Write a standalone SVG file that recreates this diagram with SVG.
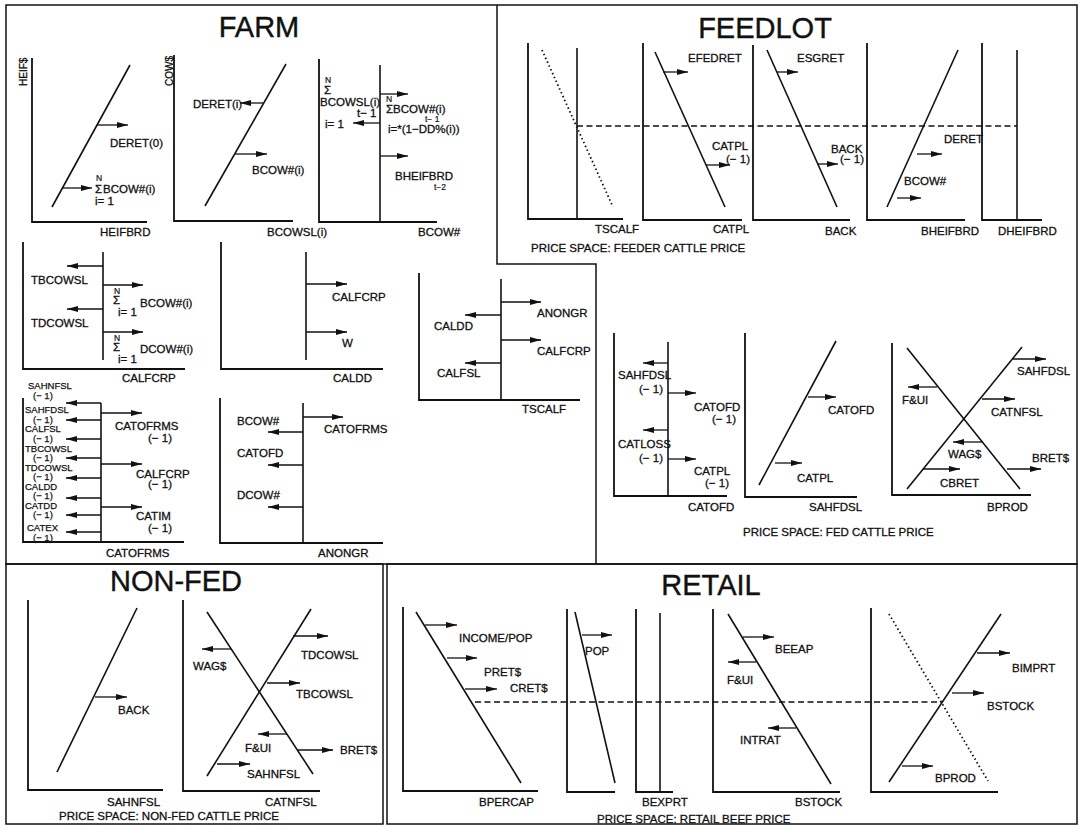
<svg xmlns="http://www.w3.org/2000/svg" width="1081" height="828" viewBox="0 0 1081 828">
<style>
text{font-family:"Liberation Sans",Arial,sans-serif;font-size:11.5px;fill:#111;stroke:#111;stroke-width:0.3}
.t{font-size:29px;text-anchor:middle;stroke-width:0.4}
.s{font-size:8.5px;stroke-width:0.2}
.r{font-size:10px}
.k{font-size:9.5px;stroke-width:0.25}
.ax{stroke:#111;stroke-width:1.8;fill:none}
.ln{stroke:#111;stroke-width:1.6;fill:none}
.dot{stroke:#111;stroke-width:1.8;stroke-dasharray:1.5 2.7;fill:none}
.dash{stroke:#111;stroke-width:1.4;stroke-dasharray:6 3.5;fill:none}
.fr{stroke:#111;stroke-width:1.5;fill:none}
#connectors path{stroke:#111;stroke-width:1.3;fill:none;marker-end:url(#ah)}
</style>
<defs>
<marker id="ah" markerUnits="userSpaceOnUse" markerWidth="11" markerHeight="6" refX="11" refY="3" orient="auto">
<path d="M0,0 L11,3 L0,6 Z" fill="#111"/>
</marker>
</defs>
<rect width="1081" height="828" fill="#fff"/>

<g id="frames">
<path class="fr" d="M6,5 H1077 V564 H6 Z"/>
<path class="fr" d="M497,5 V264 H596 V564"/>
<rect class="fr" x="6" y="564" width="377" height="260"/>
<rect class="fr" x="387" y="564" width="690" height="260"/>
</g>

<g id="titles">
<text class="t" x="259" y="37">FARM</text>
<text class="t" x="765" y="38">FEEDLOT</text>
<text class="t" x="176" y="591">NON-FED</text>
<text class="t" x="711" y="595">RETAIL</text>
</g>

<g id="farm-heifbrd">
<path class="ax" d="M32,58 V222 H147"/>
<line class="ln" x1="52" y1="207" x2="130" y2="65"/>
<text class="r" transform="translate(27,86) rotate(-90)">HEIF$</text>
<text x="110" y="147">DERET(0)</text>
<text class="s" x="96" y="181">N</text>
<text x="95" y="193">Σ</text>
<text x="103" y="193">BCOW#(i)</text>
<text x="95" y="205">i= 1</text>
<text x="100" y="236">HEIFBRD</text>
</g>

<g id="farm-bcowsl">
<path class="ax" d="M174,55 V221 H293"/>
<line class="ln" x1="205" y1="206" x2="286" y2="64"/>
<text class="r" transform="translate(173,86) rotate(-90)">COW$</text>
<text x="193" y="108">DERET(i)</text>
<text x="252" y="174">BCOW#(i)</text>
<text x="267" y="236">BCOWSL(i)</text>
</g>

<g id="farm-bcow">
<path class="ax" d="M319,59 V222 H437"/>
<line class="ln" x1="380" y1="65" x2="380" y2="222"/>
<text class="s" x="325" y="83">N</text>
<text x="324" y="94">Σ</text>
<text x="320" y="106">BCOWSL(i)</text>
<text x="357" y="117">t− 1</text>
<text x="325" y="128">i= 1</text>
<text class="s" x="386" y="102">N</text>
<text x="386" y="113">ΣBCOW#(i)</text>
<text class="s" x="425" y="122">t− 1</text>
<text x="388" y="133">i=*(1−DD%(i))</text>
<text x="395" y="180">BHEIFBRD</text>
<text class="s" x="434" y="190">t−2</text>
<text x="418" y="236">BCOW#</text>
</g>

<g id="farm-calfcrp">
<path class="ax" d="M23,242 V369 H185"/>
<line class="ln" x1="103" y1="252" x2="103" y2="360"/>
<text x="31" y="284">TBCOWSL</text>
<text class="s" x="114" y="294">N</text>
<text x="113" y="304">Σ</text>
<text x="140" y="307">BCOW#(i)</text>
<text x="118" y="316">i= 1</text>
<text x="31" y="327">TDCOWSL</text>
<text class="s" x="114" y="341">N</text>
<text x="113" y="351">Σ</text>
<text x="140" y="353">DCOW#(i)</text>
<text x="118" y="363">i= 1</text>
<text x="122" y="382">CALFCRP</text>
</g>

<g id="farm-caldd">
<path class="ax" d="M221,242 V369 H383"/>
<line class="ln" x1="306" y1="252" x2="306" y2="360"/>
<text x="332" y="301">CALFCRP</text>
<text x="342" y="347">W</text>
<text x="333" y="382">CALDD</text>
</g>

<g id="farm-tscalf">
<path class="ax" d="M419,273 V400 H580"/>
<line class="ln" x1="501" y1="279" x2="501" y2="400"/>
<text x="537" y="317">ANONGR</text>
<text x="434" y="330">CALDD</text>
<text x="537" y="355">CALFCRP</text>
<text x="437" y="377">CALFSL</text>
<text x="522" y="413">TSCALF</text>
</g>

<g id="farm-catofrms">
<path class="ax" d="M23,398 V542 H184"/>
<line class="ln" x1="101" y1="403" x2="101" y2="542"/>
<text class="k" x="28" y="389">SAHNFSL</text>
<text class="k" x="33" y="399">(− 1)</text>
<text class="k" x="25" y="413">SAHFDSL</text>
<text class="k" x="33" y="423">(− 1)</text>
<text class="k" x="25" y="432">CALFSL</text>
<text class="k" x="33" y="442">(− 1)</text>
<text class="k" x="25" y="452">TBCOWSL</text>
<text class="k" x="33" y="461">(− 1)</text>
<text class="k" x="25" y="471">TDCOWSL</text>
<text class="k" x="33" y="480">(− 1)</text>
<text class="k" x="25" y="490">CALDD</text>
<text class="k" x="33" y="499">(− 1)</text>
<text class="k" x="25" y="509">CATDD</text>
<text class="k" x="33" y="518">(− 1)</text>
<text class="k" x="27" y="531">CATEX</text>
<text class="k" x="33" y="541">(− 1)</text>
<text x="115" y="430">CATOFRMS</text>
<text x="148" y="442">(− 1)</text>
<text x="136" y="478">CALFCRP</text>
<text x="148" y="488">(− 1)</text>
<text x="136" y="520">CATIM</text>
<text x="148" y="532">(− 1)</text>
<text x="106" y="557">CATOFRMS</text>
</g>

<g id="farm-anongr">
<path class="ax" d="M220,398 V543 H383"/>
<line class="ln" x1="303" y1="403" x2="303" y2="543"/>
<text x="324" y="433">CATOFRMS</text>
<text x="237" y="425">BCOW#</text>
<text x="237" y="457">CATOFD</text>
<text x="237" y="499">DCOW#</text>
<text x="318" y="557">ANONGR</text>
</g>

<g id="feedlot-tscalf">
<path class="ax" d="M528,43 V219 H623"/>
<line class="ln" x1="577" y1="48" x2="577" y2="219"/>
<line class="dot" x1="542" y1="50" x2="613" y2="207"/>
<text x="595" y="233">TSCALF</text>
<text x="531" y="252">PRICE SPACE: FEEDER CATTLE PRICE</text>
</g>

<g id="feedlot-catpl">
<path class="ax" d="M643,43 V220 H742"/>
<line class="ln" x1="655" y1="52" x2="725" y2="207"/>
<text x="688" y="62">EFEDRET</text>
<text x="712" y="150">CATPL</text>
<text x="726" y="163">(− 1)</text>
<text x="713" y="233">CATPL</text>
</g>

<g id="feedlot-back">
<path class="ax" d="M753,45 V220 H850"/>
<line class="ln" x1="767" y1="50" x2="837" y2="207"/>
<text x="797" y="62">ESGRET</text>
<text x="831" y="153">BACK</text>
<text x="840" y="163">(− 1)</text>
<text x="825" y="235">BACK</text>
</g>

<g id="feedlot-bheifbrd">
<path class="ax" d="M867,43 V220 H965"/>
<line class="ln" x1="887" y1="207" x2="958" y2="50"/>
<text x="944" y="143">DERET</text>
<text x="904" y="185">BCOW#</text>
<text x="921" y="235">BHEIFBRD</text>
</g>

<g id="feedlot-dheifbrd">
<path class="ax" d="M982,43 V220 H1042"/>
<line class="ln" x1="1017" y1="50" x2="1017" y2="220"/>
<text x="998" y="235">DHEIFBRD</text>
</g>

<g id="feedlot-catofd">
<path class="ax" d="M614,333 V496 H727"/>
<line class="ln" x1="668" y1="342" x2="668" y2="496"/>
<text x="618" y="379">SAHFDSL</text>
<text x="639" y="393">(− 1)</text>
<text x="694" y="411">CATOFD</text>
<text x="712" y="423">(− 1)</text>
<text x="618" y="448">CATLOSS</text>
<text x="639" y="462">(− 1)</text>
<text x="694" y="475">CATPL</text>
<text x="705" y="487">(− 1)</text>
<text x="688" y="511">CATOFD</text>
</g>

<g id="feedlot-sahfdsl">
<path class="ax" d="M745,333 V497 H857"/>
<line class="ln" x1="759" y1="485" x2="836" y2="341"/>
<text x="828" y="414">CATOFD</text>
<text x="797" y="482">CATPL</text>
<text x="809" y="511">SAHFDSL</text>
</g>

<g id="feedlot-bprod">
<path class="ax" d="M892,343 V495 H1031"/>
<line class="ln" x1="907" y1="348" x2="1020" y2="489"/>
<line class="ln" x1="907" y1="489" x2="1022" y2="347"/>
<text x="1017" y="375">SAHFDSL</text>
<text x="902" y="404">F&amp;UI</text>
<text x="991" y="416">CATNFSL</text>
<text x="948" y="458">WAG$</text>
<text x="1032" y="462">BRET$</text>
<text x="940" y="487">CBRET</text>
<text x="987" y="511">BPROD</text>
<text x="743" y="536">PRICE SPACE: FED CATTLE PRICE</text>
</g>

<g id="nonfed-sahnfsl">
<path class="ax" d="M28,600 V790 H163"/>
<line class="ln" x1="57" y1="772" x2="137" y2="608"/>
<text x="118" y="714">BACK</text>
<text x="107" y="806">SAHNFSL</text>
</g>

<g id="nonfed-catnfsl">
<path class="ax" d="M183,600 V791 H320"/>
<line class="ln" x1="207" y1="612" x2="313" y2="774"/>
<line class="ln" x1="207" y1="776" x2="311" y2="609"/>
<text x="193" y="670">WAG$</text>
<text x="301" y="659">TDCOWSL</text>
<text x="296" y="698">TBCOWSL</text>
<text x="245" y="752">F&amp;UI</text>
<text x="340" y="754">BRET$</text>
<text x="247" y="778">SAHNFSL</text>
<text x="265" y="806">CATNFSL</text>
<text x="59" y="820">PRICE SPACE: NON-FED CATTLE PRICE</text>
</g>

<g id="retail-bpercap">
<path class="ax" d="M403,607 V791 H538"/>
<line class="ln" x1="416" y1="612" x2="521" y2="783"/>
<text x="459" y="642">INCOME/POP</text>
<text x="484" y="676">PRET$</text>
<text x="510" y="692">CRET$</text>
<text x="479" y="806">BPERCAP</text>
</g>

<g id="retail-pop">
<path class="ax" d="M567,609 V792 H615"/>
<line class="ln" x1="575" y1="612" x2="615" y2="783"/>
<text x="585" y="655">POP</text>
</g>

<g id="retail-bexprt">
<path class="ax" d="M636,609 V792 H673"/>
<line class="ln" x1="660" y1="613" x2="660" y2="792"/>
<text x="642" y="806">BEXPRT</text>
</g>

<g id="retail-bstock">
<path class="ax" d="M713,609 V792 H840"/>
<line class="ln" x1="728" y1="614" x2="831" y2="784"/>
<text x="775" y="653">BEEAP</text>
<text x="727" y="684">F&amp;UI</text>
<text x="740" y="744">INTRAT</text>
<text x="795" y="806">BSTOCK</text>
</g>

<g id="retail-bimprt">
<path class="ax" d="M871,608 V792 H998"/>
<line class="dot" x1="889" y1="614" x2="988" y2="781"/>
<line class="ln" x1="889" y1="782" x2="1001" y2="614"/>
<text x="1012" y="672">BIMPRT</text>
<text x="987" y="710">BSTOCK</text>
<text x="935" y="782">BPROD</text>
<text x="597" y="823">PRICE SPACE: RETAIL BEEF PRICE</text>
</g>

<g id="price-lines">
<line class="dash" x1="577" y1="126" x2="1017" y2="126"/>
<line class="dash" x1="475" y1="702" x2="943" y2="702"/>
</g>

<g id="connectors">
<path d="M97,125 H128"/>
<path d="M63,188 H92"/>
<path d="M263,103 H240"/>
<path d="M235,154 H267"/>
<path d="M380,94 H408"/>
<path d="M380,123 H353"/>
<path d="M380,156 H408"/>
<path d="M103,266 H67"/>
<path d="M103,285 H143"/>
<path d="M103,309 H67"/>
<path d="M103,332 H143"/>
<path d="M306,284 H347"/>
<path d="M306,332 H347"/>
<path d="M501,302 H541"/>
<path d="M501,315 H465"/>
<path d="M501,340 H541"/>
<path d="M501,363 H465"/>
<path d="M101,403 H66"/>
<path d="M101,420 H66"/>
<path d="M101,439 H66"/>
<path d="M101,458 H66"/>
<path d="M101,478 H66"/>
<path d="M101,498 H66"/>
<path d="M101,515 H66"/>
<path d="M101,532 H66"/>
<path d="M101,413 H142"/>
<path d="M101,464 H142"/>
<path d="M101,507 H142"/>
<path d="M303,417 H343"/>
<path d="M303,432 H268"/>
<path d="M303,465 H268"/>
<path d="M303,507 H268"/>
<path d="M663,72 H688"/>
<path d="M706,165 H730"/>
<path d="M777,72 H798"/>
<path d="M817,164 H838"/>
<path d="M917,154 H942"/>
<path d="M897,198 H921"/>
<path d="M668,363 H643"/>
<path d="M668,393 H696"/>
<path d="M668,430 H643"/>
<path d="M668,459 H696"/>
<path d="M808,397 H836"/>
<path d="M775,463 H802"/>
<path d="M1013,359 H1046"/>
<path d="M937,387 H908"/>
<path d="M982,399 H1015"/>
<path d="M983,442 H953"/>
<path d="M1007,469 H1041"/>
<path d="M923,469 H960"/>
<path d="M95,697 H127"/>
<path d="M231,649 H202"/>
<path d="M293,636 H328"/>
<path d="M267,683 H300"/>
<path d="M287,734 H258"/>
<path d="M298,750 H333"/>
<path d="M217,764 H250"/>
<path d="M425,625 H457"/>
<path d="M447,658 H477"/>
<path d="M465,689 H497"/>
<path d="M582,635 H612"/>
<path d="M743,637 H774"/>
<path d="M756,662 H728"/>
<path d="M796,728 H768"/>
<path d="M977,653 H1010"/>
<path d="M952,693 H984"/>
<path d="M902,766 H933"/>
</g>
</svg>
